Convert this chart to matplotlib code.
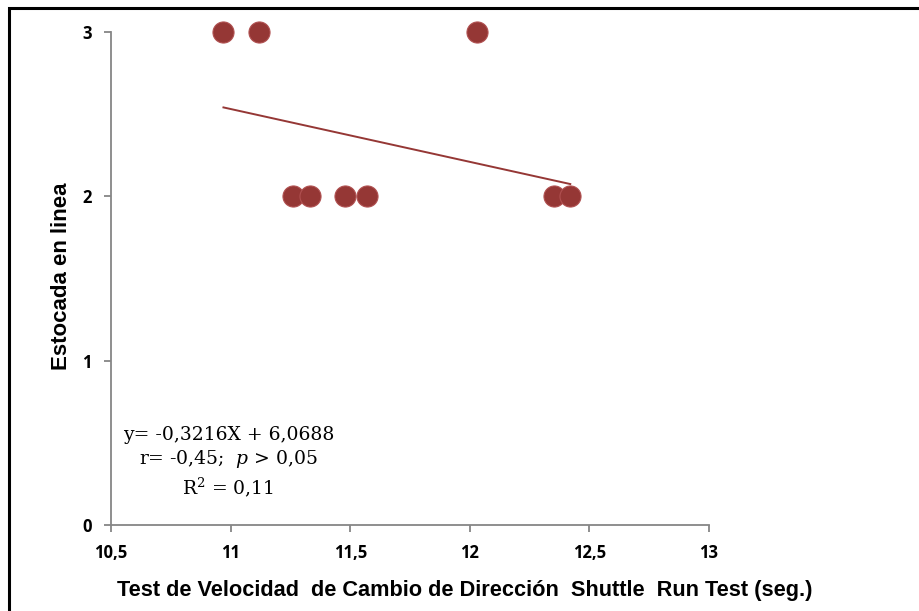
import matplotlib.pyplot as plt
import numpy as np
from matplotlib.patches import Rectangle

# data
shuttle = [10.97, 11.12, 12.03, 11.26, 11.33, 11.48, 11.57, 12.35, 12.42]
estocada = [3, 3, 3, 2, 2, 2, 2, 2, 2]
slope = -0.3216
intercept = 6.0688
xticks = [10.5, 11, 11.5, 12, 12.5, 13]
yticks = [0, 1, 2, 3]

red = '#953735'
grey = '#868686'

plt.rcParams['mathtext.fontset'] = 'dejavuserif'

fig = plt.figure(figsize=(9.19, 6.11), dpi=100)
ax = fig.add_axes([0.1208, 0.1408, 0.6507, 0.8069])

# trend line over the data range
xs = np.array([min(shuttle), max(shuttle)])
ax.plot(xs, slope * xs + intercept, color=red, lw=1.4, zorder=2)
ax.scatter(shuttle, estocada, s=230, color=red, edgecolor='#b05050',
           linewidth=0.8, zorder=3, clip_on=False)

ax.set_xlim(10.5, 13)
ax.set_ylim(0, 3)
ax.set_xticks(xticks)
ax.set_xticklabels(['10,5', '11', '11,5', '12', '12,5', '13'])
ax.set_yticks(yticks)
for lab in ax.get_xticklabels() + ax.get_yticklabels():
    lab.set_fontfamily('Open Sans')
    lab.set_fontweight('bold')
    lab.set_fontsize(12)

for s in ['top', 'right']:
    ax.spines[s].set_visible(False)
for s in ['left', 'bottom']:
    ax.spines[s].set_color(grey)
    ax.spines[s].set_linewidth(1.3)
ax.tick_params(direction='out', length=5, width=1.3, color=grey, pad=9)

ax.set_xlabel('Test de Velocidad  de Cambio de Dirección  Shuttle  Run Test (seg.)',
              fontfamily='Liberation Sans', fontweight='bold', fontsize=15.7)
ax.set_ylabel('Estocada en linea', fontfamily='Liberation Sans',
              fontweight='bold', fontsize=16)
ax.xaxis.set_label_coords(0.592, -0.111)
ax.yaxis.set_label_coords(-0.066, 0.505)

ax.text(10.99, 0.605, 'y= -0,3216X + 6,0688\nr= -0,45;  $p$ > 0,05\nR$^2$ = 0,11',
        ha='center', va='top', fontfamily='DejaVu Serif', fontsize=13.5,
        linespacing=1.3, multialignment='center')

# outer frame (only top and left edges are inside the picture)
fig.patches.append(Rectangle((9 / 919, -0.05), 1.0, 1.05 - 8 / 611,
                             transform=fig.transFigure, fill=False,
                             edgecolor='black', lw=2.2))

fig.savefig('out.png', dpi=100)
